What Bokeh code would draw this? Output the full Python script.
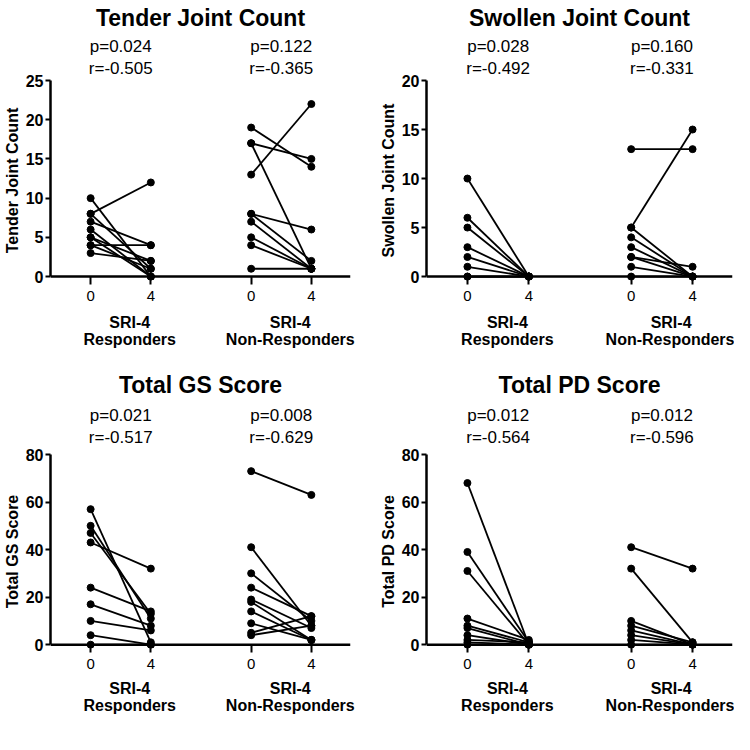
from bokeh.plotting import figure
from bokeh.layouts import column, row
from bokeh.models import ColumnDataSource, Span, FixedTicker, Range1d, LinearAxis
from bokeh.embed import file_html
from bokeh.resources import INLINE

FONT = "Liberation Sans"

WEEK_LABELS = ["0", "4"]
GROUP_LINE1 = ["SRI-4", "SRI-4"]
GROUP_LINE2 = ["Responders", "Non-Responders"]

# ---- Tender Joint Count ----
TJC_TITLE = "Tender Joint Count"
TJC_R_W0 = [8, 10, 8, 7, 6, 5, 4, 4, 3, 5]
TJC_R_W4 = [12, 0, 1, 4, 0, 2, 4, 1, 2, 0]
TJC_N_W0 = [19, 17, 17, 13, 8, 8, 7, 5, 4, 1]
TJC_N_W4 = [14, 15, 1, 22, 6, 2, 1, 1, 1, 1]
TJC_P = ["p=0.024", "p=0.122"]
TJC_R = ["r=-0.505", "r=-0.365"]

# ---- Swollen Joint Count ----
SJC_TITLE = "Swollen Joint Count"
SJC_R_W0 = [10, 6, 5, 3, 2, 1, 0, 0]
SJC_R_W4 = [0, 0, 0, 0, 0, 0, 0, 0]
SJC_N_W0 = [13, 5, 5, 4, 3, 2, 2, 1, 0]
SJC_N_W4 = [13, 15, 0, 0, 0, 1, 0, 0, 0]
SJC_P = ["p=0.028", "p=0.160"]
SJC_R = ["r=-0.492", "r=-0.331"]

# ---- Total GS Score ----
GS_TITLE = "Total GS Score"
GS_R_W0 = [57, 50, 47, 43, 24, 17, 10, 4, 0]
GS_R_W4 = [1, 11, 13, 32, 14, 8, 6, 0, 0]
GS_N_W0 = [73, 41, 30, 24, 19, 18, 14, 9, 5, 4]
GS_N_W4 = [63, 8, 10, 12, 7, 2, 2, 2, 12, 8]
GS_P = ["p=0.021", "p=0.008"]
GS_R = ["r=-0.517", "r=-0.629"]

# ---- Total PD Score ----
PD_TITLE = "Total PD Score"
PD_R_W0 = [68, 39, 31, 11, 8, 7, 4, 2, 1, 0]
PD_R_W4 = [0, 1, 0, 2, 1, 0, 0, 1, 0, 0]
PD_N_W0 = [41, 32, 10, 8, 6, 4, 2, 0]
PD_N_W4 = [32, 1, 0, 1, 0, 0, 0, 0]
PD_P = ["p=0.012", "p=0.012"]
PD_R = ["r=-0.564", "r=-0.596"]

PANELS = [
    dict(title=TJC_TITLE, ymax=25, ystep=5, groups=[(TJC_R_W0, TJC_R_W4), (TJC_N_W0, TJC_N_W4)], p=TJC_P, r=TJC_R),
    dict(title=SJC_TITLE, ymax=20, ystep=5, groups=[(SJC_R_W0, SJC_R_W4), (SJC_N_W0, SJC_N_W4)], p=SJC_P, r=SJC_R),
    dict(title=GS_TITLE, ymax=80, ystep=20, groups=[(GS_R_W0, GS_R_W4), (GS_N_W0, GS_N_W4)], p=GS_P, r=GS_R),
    dict(title=PD_TITLE, ymax=80, ystep=20, groups=[(PD_R_W0, PD_R_W4), (PD_N_W0, PD_N_W4)], p=PD_P, r=PD_R),
]

# layout (pixels)
W = 367
GROUP_STEP = 8   # x offset between groups
WEEK_STEP = 3    # x offset between weeks within a group
TOP_ROW = dict(h=350, top=70, bottom=60, title_so=5, r_so=3, p_so=0, g1_so=10, g2_so=-3)
BOT_ROW = dict(h=366, top=104, bottom=60, title_so=10, r_so=8, p_so=0, g1_so=8, g2_so=-3)
LAYOUT = [
    dict(TOP_ROW, left=42, right=17),
    dict(TOP_ROW, left=59, right=2),
    dict(BOT_ROW, left=42, right=17),
    dict(BOT_ROW, left=59, right=2),
]


def text_axis(ticks, labels, size, bold, standoff, line_height):
    ax = LinearAxis(ticker=FixedTicker(ticks=ticks),
                    major_label_overrides={t: labels[i] for i, t in enumerate(ticks)})
    ax.axis_line_color = None
    ax.major_tick_line_color = None
    ax.minor_tick_line_color = None
    ax.major_tick_in = 0
    ax.major_tick_out = 0
    ax.minor_tick_in = 0
    ax.minor_tick_out = 0
    ax.major_label_standoff = standoff
    ax.major_label_text_font = FONT
    ax.major_label_text_font_size = size
    ax.major_label_text_font_style = "bold" if bold else "normal"
    ax.major_label_text_color = "black"
    ax.major_label_text_align = "center"
    ax.major_label_text_line_height = line_height
    return ax


def make_panel(spec, lay):
    ymax = spec["ymax"]
    p = figure(width=W, height=lay["h"], output_backend="svg", toolbar_location=None,
               title=spec["title"],
               x_range=Range1d(-2.0, 12.95), y_range=Range1d(-ymax * 0.02, ymax),
               min_border_left=lay["left"], min_border_right=lay["right"],
               min_border_top=lay["top"], min_border_bottom=lay["bottom"],
               background_fill_color="white", border_fill_color="white")
    p.outline_line_color = None
    p.xgrid.visible = False
    p.ygrid.visible = False

    p.title.align = "center"
    p.title.offset = 4
    p.title.text_font = FONT
    p.title.text_font_style = "bold"
    p.title.text_font_size = "23px"
    p.title.text_color = "black"
    p.title.standoff = lay["title_so"]

    # segments & points
    x0s, y0s, x1s, y1s = [], [], [], []
    for gi, (w0, w4) in enumerate(spec["groups"]):
        for a, b in zip(w0, w4):
            x0s.append(gi * GROUP_STEP)
            x1s.append(gi * GROUP_STEP + WEEK_STEP)
            y0s.append(a)
            y1s.append(b)
    src = ColumnDataSource(dict(x0=x0s, y0=y0s, x1=x1s, y1=y1s))
    p.segment("x0", "y0", "x1", "y1", source=src, line_color="black", line_width=1.8)
    p.scatter("x0", "y0", source=src, size=7, color="black")
    p.scatter("x1", "y1", source=src, size=7, color="black")

    # x axis line at zero
    p.add_layout(Span(location=0, dimension="width", line_color="black", line_width=2.5))

    # y axis
    ya = p.yaxis[0]
    ya.bounds = (0, ymax)
    ya.ticker = FixedTicker(ticks=list(range(0, ymax + 1, spec["ystep"])))
    ya.axis_label = spec["title"]
    ya.axis_label_text_font = FONT
    ya.axis_label_text_font_style = "bold"
    ya.axis_label_text_font_size = "16px"
    ya.axis_label_text_color = "black"
    ya.axis_label_standoff = 2
    ya.major_label_text_font = FONT
    ya.major_label_text_font_style = "bold"
    ya.major_label_text_font_size = "16px"
    ya.major_label_text_color = "black"
    ya.major_label_standoff = 2
    ya.axis_line_width = 2.5
    ya.axis_line_color = "black"
    ya.major_tick_line_width = 2
    ya.major_tick_line_color = "black"
    ya.major_tick_out = 5
    ya.major_tick_in = 0
    ya.minor_tick_line_color = None
    ya.minor_tick_out = 0
    ya.minor_tick_in = 0

    # x axis (ticks only; line drawn at zero)
    xa = p.xaxis[0]
    ticks = [g * GROUP_STEP + w * WEEK_STEP for g in range(2) for w in range(2)]
    xa.ticker = FixedTicker(ticks=ticks)
    xa.major_label_overrides = {t: WEEK_LABELS[i % 2] for i, t in enumerate(ticks)}
    xa.axis_line_color = None
    xa.major_tick_line_width = 2
    xa.major_tick_line_color = "black"
    xa.major_tick_in = 4
    xa.major_tick_out = 4
    xa.minor_tick_line_color = None
    xa.minor_tick_out = 0
    xa.minor_tick_in = 0
    xa.major_label_text_font = FONT
    xa.major_label_text_font_size = "15px"
    xa.major_label_text_color = "black"
    xa.major_label_text_line_height = 0.85
    xa.major_label_standoff = 6

    # group labels (two lines, below)
    gticks = [g * GROUP_STEP + WEEK_STEP / 2.0 + 0.45 for g in range(2)]
    p.add_layout(text_axis(gticks, GROUP_LINE1, "16px", True, lay["g1_so"], 0.85), "below")
    p.add_layout(text_axis(gticks, GROUP_LINE2, "16px", True, lay["g2_so"], 0.5), "below")

    # p / r statistics (above; r closest to the frame)
    sticks = [g * GROUP_STEP + WEEK_STEP / 2.0 for g in range(2)]
    p.add_layout(text_axis(sticks, spec["r"], "17px", False, lay["r_so"], 0.7), "above")
    p.add_layout(text_axis(sticks, spec["p"], "17px", False, lay["p_so"], 0.85), "above")
    return p


plots = [make_panel(s, l) for s, l in zip(PANELS, LAYOUT)]
page = column(row(plots[0], plots[1]), row(plots[2], plots[3]))
open("out.html", "w").write(file_html(page, INLINE))
